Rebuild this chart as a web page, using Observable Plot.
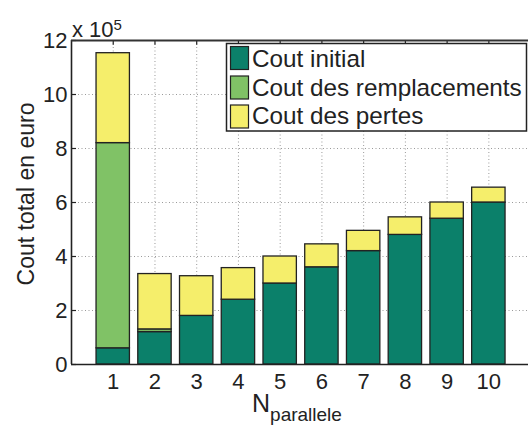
<!DOCTYPE html>
<html><head><meta charset="utf-8">
<script src="https://cdn.jsdelivr.net/npm/d3@7"></script>
<script src="https://cdn.jsdelivr.net/npm/@observablehq/plot@0.6"></script>
<style>body{margin:0;background:#fff} svg{display:block}</style>
</head><body><div id="chart"></div>
<script>
// ---- data ----
const nParallele = [1, 2, 3, 4, 5, 6, 7, 8, 9, 10];
const coutInitial = [60000, 120000, 180000, 240000, 300000, 360000, 420000, 480000, 540000, 600000];
const coutRemplacements = [760000, 10000, 0, 0, 0, 0, 0, 0, 0, 0];
const coutPertes = [333000, 205000, 147000, 117000, 100000, 85000, 75000, 65000, 60000, 55000];
const seriesNames = ["Cout initial", "Cout des remplacements", "Cout des pertes"];
const seriesColors = ["#0b806a", "#80c266", "#f5ee6b"];
const yTicks = [0, 200000, 400000, 600000, 800000, 1000000, 1200000];
const yTickLabels = ["0", "2", "4", "6", "8", "10", "12"];
const xTickLabels = ["1", "2", "3", "4", "5", "6", "7", "8", "9", "10"];

const seriesValues = [coutInitial, coutRemplacements, coutPertes];
const rows = [];
nParallele.forEach((n, i) => {
  seriesNames.forEach((s, j) => {
    if (seriesValues[j][i] > 0) rows.push({n, series: s, value: seriesValues[j][i]});
  });
});

const font = "'Liberation Sans', Arial, Helvetica, sans-serif";
const halfBar = 0.4;

const chart = Plot.plot({
  width: 528, height: 427,
  marginLeft: 71, marginRight: 0, marginTop: 40, marginBottom: 63,
  style: {fontFamily: font, fontSize: "22px", color: "#222", background: "#fff"},
  x: {domain: [0, 10.95]},
  y: {domain: [0, 1200000]},
  color: {domain: seriesNames, range: seriesColors},
  marks: [
    Plot.gridX(nParallele, {stroke: "#9a9a9a", strokeOpacity: 1, strokeDasharray: "1,2.5"}),
    Plot.gridY(yTicks.filter(v => v > 0), {stroke: "#9a9a9a", strokeOpacity: 1, strokeDasharray: "1,2.5"}),
    Plot.rectY(rows, Plot.stackY({
      x1: d => d.n - halfBar, x2: d => d.n + halfBar,
      y: "value", fill: "series", z: "series",
      stroke: "#222", strokeWidth: 1.3
    })),
    Plot.ruleY(yTicks, {y: d => d, x1: 0, x2: 0.12, stroke: "#222", strokeWidth: 1.2}),
    Plot.ruleX(nParallele, {x: d => d, y1: 1200000, y2: 1182000, stroke: "#222", strokeWidth: 1.2}),
    Plot.ruleX([0], {stroke: "#222", strokeWidth: 1.6}),
    Plot.ruleY([0], {stroke: "#222", strokeWidth: 1.6}),
    Plot.ruleY([1200000], {stroke: "#333", strokeWidth: 1.8}),
    Plot.axisY({ticks: yTicks, tickFormat: (d, i) => yTickLabels[i], tickSize: 0, tickPadding: 4, label: null, fontSize: 22}),
    Plot.axisX({ticks: nParallele, tickFormat: (d, i) => xTickLabels[i], tickSize: 0, tickPadding: 9, label: null, fontSize: 22})
  ]
});
document.getElementById("chart").appendChild(chart);

const svg = d3.select(chart);
// exponent
const ex = svg.append("text").attr("x", 72).attr("y", 37).attr("text-anchor", "start")
  .attr("font-family", font).attr("font-size", 22).attr("fill", "#222");
ex.append("tspan").text("x 10");
ex.append("tspan").attr("font-size", 15).attr("dy", -7).text("5");

// y label
svg.append("text").attr("transform", "translate(33.5,194) rotate(-90)")
  .attr("text-anchor", "middle").attr("font-family", font).attr("font-size", 23).attr("fill", "#222")
  .text("Cout total en euro");

// x label
const xl = svg.append("text").attr("x", 252).attr("y", 412).attr("text-anchor", "start")
  .attr("font-family", font).attr("fill", "#222");
xl.append("tspan").attr("font-size", 25).text("N");
xl.append("tspan").attr("font-size", 19).attr("dy", 9).text("parallele");

// legend
const lg = svg.append("g");
lg.append("rect").attr("x", 226.5).attr("y", 43.5).attr("width", 300).attr("height", 87.5)
  .attr("fill", "#fff").attr("stroke", "#222").attr("stroke-width", 1.5);
const rowTop = [46.5, 76, 105];
const rowBase = [67, 95.5, 124];
const texts = seriesNames.map((s, i) => {
  lg.append("rect").attr("x", 230.5).attr("y", rowTop[i]).attr("width", 18).attr("height", 23)
    .attr("fill", seriesColors[i]).attr("stroke", "#222").attr("stroke-width", 1.2);
  return lg.append("text").attr("x", 252).attr("y", rowBase[i]).attr("text-anchor", "start")
    .attr("font-family", font).attr("font-size", 24)
    .attr("fill", "#222").text(s);
});
// fit the longest legend label to the legend box (about 270 px wide)
const widest = d3.max(texts, t => t.node().getComputedTextLength());
if (widest > 0) {
  const fs = Math.min(26, 24 * 270 / widest);
  texts.forEach(t => t.attr("font-size", fs));
}
</script>
</body></html>
